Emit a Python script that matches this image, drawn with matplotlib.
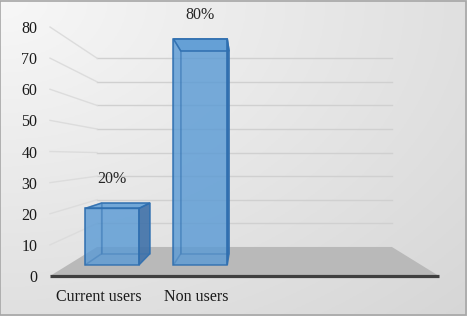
import numpy as np
import matplotlib.pyplot as plt
from matplotlib.patches import Polygon

categories = ['Current users', 'Non users']
values = [20, 80]
labels = ['20%', '80%']
yticks = [0, 10, 20, 30, 40, 50, 60, 70, 80]

# perspective: vanishing point in data units, depth scale of each plane
vp_x, vp_y = 1.5, 38.55
s_front, s_bar_f, s_bar_b, s_wall = 1.0, 0.908, 0.814, 0.758
half_w = 0.305
x_min, x_max = -0.5, 3.5


def proj(x, v, s):
    return (vp_x + (x - vp_x) * s, vp_y + (v - vp_y) * s)


plt.rcParams['font.family'] = ['Liberation Serif', 'DejaVu Serif']

fig = plt.figure(figsize=(4.67, 3.16), dpi=100)

# background gradient
bg = fig.add_axes([0, 0, 1, 1])
gx, gy = np.meshgrid(np.linspace(0, 1, 200), np.linspace(0, 1, 140))
shade = 0.97 - 0.13 * np.sqrt((gx ** 2 + gy ** 2) / 2)
bg.imshow(np.dstack([shade] * 3), aspect='auto', extent=[0, 1, 1, 0])
bg.set_xlim(0, 1)
bg.set_ylim(1, 0)
bg.axis('off')
bg.add_patch(plt.Rectangle((0.001, 0.002), 0.996, 0.995, fill=False,
                           edgecolor='#a6a6a6', linewidth=1.2))

ax = fig.add_axes([50 / 467, 40 / 316, 389 / 467, 249 / 316])
ax.set_xlim(x_min, x_max)
ax.set_ylim(0, 80)
ax.patch.set_alpha(0)
for sp in ax.spines.values():
    sp.set_visible(False)

# floor
floor = [proj(x_min, 0, s_front), proj(x_max, 0, s_front),
         proj(x_max, 0, s_wall), proj(x_min, 0, s_wall)]
ax.add_patch(Polygon(floor, closed=True, facecolor='#b9b9b9',
                     edgecolor='none', clip_on=False, zorder=1))

# gridlines on back wall and left side wall
for v in yticks[1:]:
    a = proj(x_min, v, s_wall)
    b = proj(x_max, v, s_wall)
    c = proj(x_min, v, s_front)
    ax.plot([a[0], b[0]], [a[1], b[1]], color='#d0d0d0', lw=1,
            clip_on=False, zorder=1)
    ax.plot([c[0], a[0]], [c[1], a[1]], color='#dcdcdc', lw=1,
            clip_on=False, zorder=1)

# front edge of floor
ax.plot([x_min, x_max], [0, 0], color='#3f3f3f', lw=2.3, clip_on=False,
        zorder=2, solid_capstyle='butt')

face_col = '#5b9bd5'
side_col = '#3e6fa6'
edge_col = '#2f6fb0'

for i, v in enumerate(values):
    x0, x1 = i - half_w, i + half_w
    fb = [proj(x0, 0, s_bar_f), proj(x1, 0, s_bar_f),
          proj(x1, v, s_bar_f), proj(x0, v, s_bar_f)]
    bb = [proj(x0, 0, s_bar_b), proj(x1, 0, s_bar_b),
          proj(x1, v, s_bar_b), proj(x0, v, s_bar_b)]
    back = bb
    left = [bb[0], fb[0], fb[3], bb[3]]
    bottom = [fb[0], fb[1], bb[1], bb[0]]
    right = [fb[1], bb[1], bb[2], fb[2]]
    top = [fb[3], fb[2], bb[2], bb[3]]
    faces = [(back, face_col, 0.35), (left, face_col, 0.3),
             (bottom, face_col, 0.3), (right, side_col, 0.85),
             (top, face_col, 0.75), (fb, face_col, 0.72)]
    for pts, col, al in faces:
        ax.add_patch(Polygon(pts, closed=True, facecolor=col, alpha=al,
                             edgecolor='none', clip_on=False, zorder=3))
    for pts, al in [(back, 0.35), (left, 0.35), (right, 0.9),
                    (top, 0.9), (fb, 0.9)]:
        ax.add_patch(Polygon(pts, closed=True, facecolor='none',
                             edgecolor=edge_col, lw=1.1, alpha=al,
                             clip_on=False, zorder=4))
    top_y = max(proj(x0, v, s_bar_f)[1], proj(x0, v, s_bar_b)[1])
    cx = proj(i, v, s_bar_f)[0]
    ax.annotate(labels[i], (cx, top_y), xytext=(0, 17.3),
                textcoords='offset points', ha='center', va='center',
                fontsize=11.5, color='#262626', annotation_clip=False)

ax.set_yticks(yticks)
ax.set_yticklabels([str(t) for t in yticks])
ax.set_xticks(range(len(categories)))
ax.set_xticklabels(categories)
ax.tick_params(axis='y', length=0, pad=9, labelsize=11.5, labelcolor='#1a1a1a')
ax.tick_params(axis='x', length=0, pad=9.5, labelsize=11.5, labelcolor='#1a1a1a')

fig.savefig('out.png', dpi=100)
